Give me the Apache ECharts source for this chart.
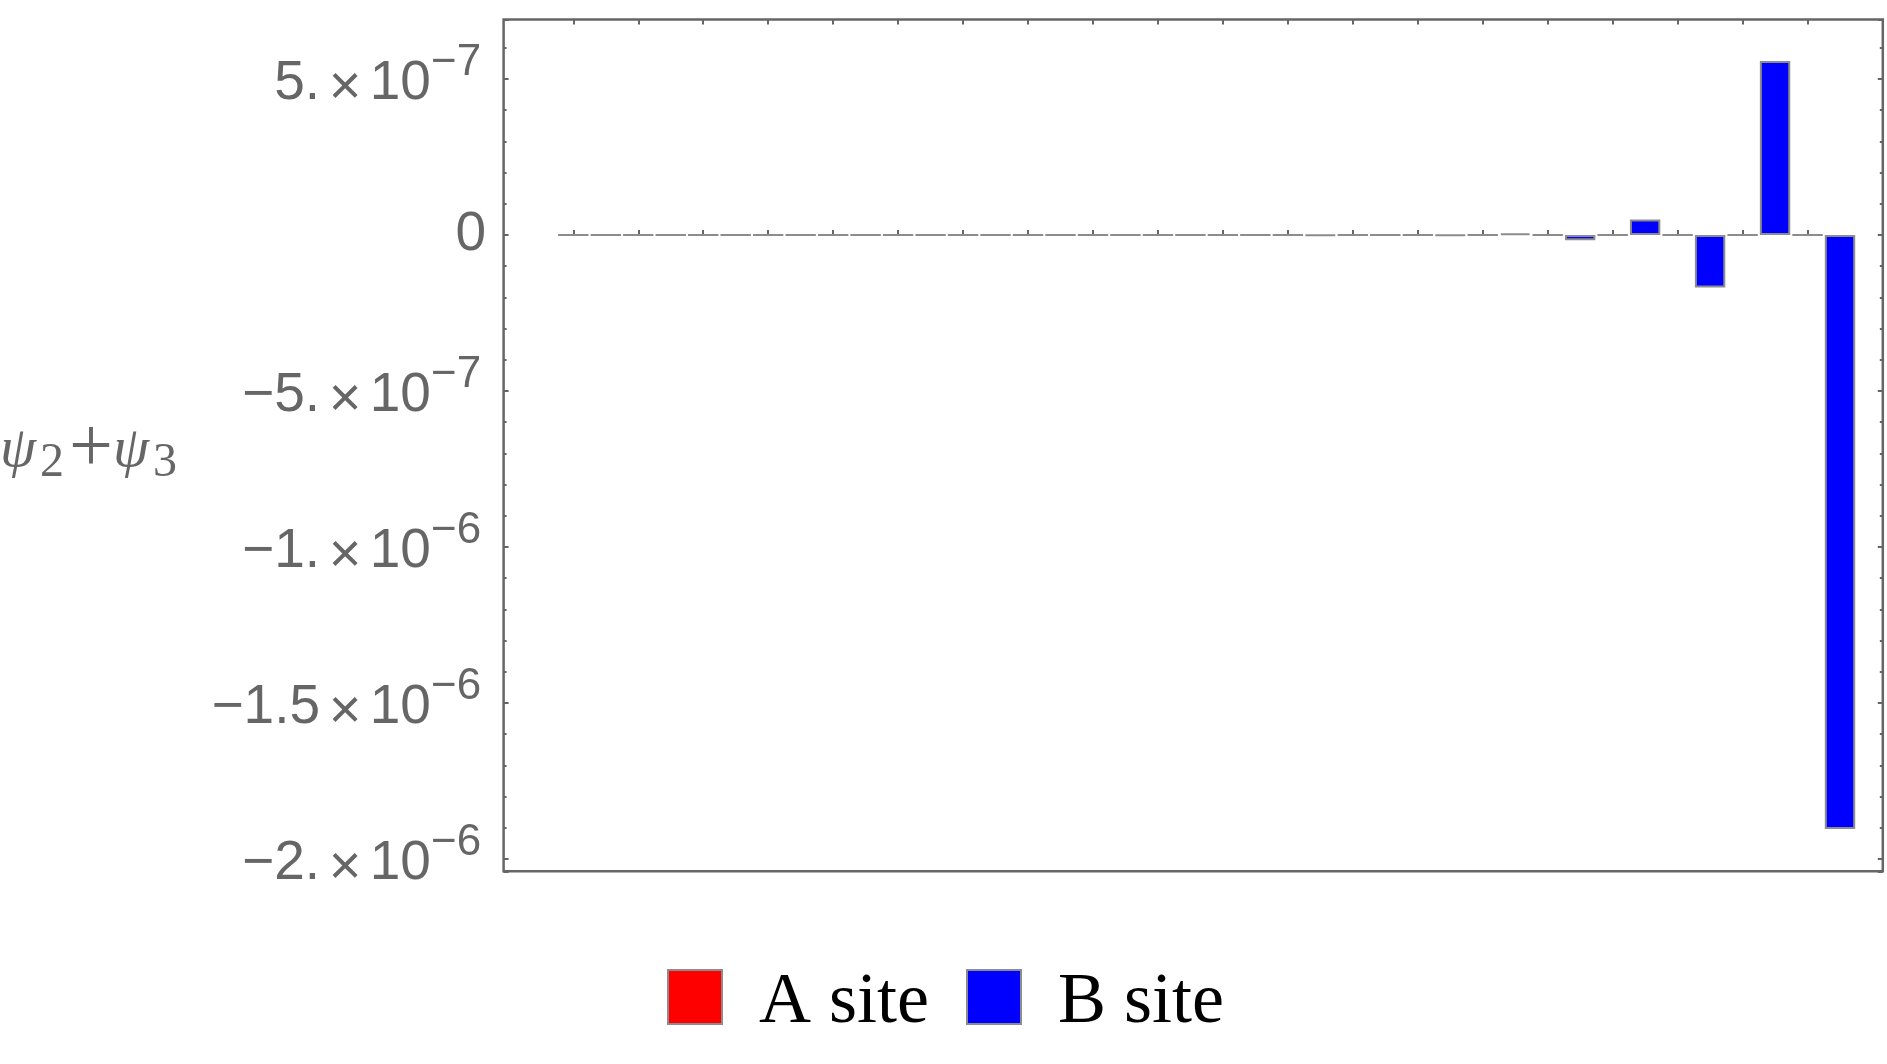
<!DOCTYPE html>
<html>
<head>
<meta charset="utf-8">
<title>psi2 + psi3</title>
<script src="https://cdn.jsdelivr.net/npm/echarts@6/dist/echarts.min.js"></script>
<style>
    html, body { margin: 0; padding: 0; background: #fff; }
    #main { width: 1887px; height: 1064px; }
</style>
</head>
<body>
<div id="main"></div>
<script>
// site index along the chain (no labels shown on the axis)
var siteIndex = ['1', '2', '3', '4', '5', '6', '7', '8', '9', '10',
    '11', '12', '13', '14', '15', '16', '17', '18', '19', '20'];
var seriesNames = ['A site', 'B site'];
// psi2 + psi3 on each sublattice
var aSite = [0, 0, 0, 0, 0, 0, 0, 0, 0, 0,
    0, 0, 0, 0, 0, 0, 0, 0, 0, 0];
var bSite = [0, 0, 0, 0, 0, 0, 0, 0, 0, 0,
    0, -1.5e-9, 0, -1.5e-9, 5.4e-9, -1.7e-8, 5.0e-8, -1.68e-7, 5.58e-7, -1.904e-6];
// plot range of the value axis
var yMin = -2.0394e-6;
var yMax = 6.907e-7;
var yStep = 5e-7;

var grey = '#666666';
var edge = '#8c8c8c';

/* y tick labels in Mathematica style: 5. x 10^-7 */
function sciLabel(v) {
    if (Math.abs(v) < 1e-15) return '{z|0}';
    var k = v / yStep;
    if (Math.abs(k - Math.round(k)) > 1e-6) return '';
    var e = Math.floor(Math.log10(Math.abs(v)) + 1e-9);
    var m = Math.round(v / Math.pow(10, e) * 10) / 10;
    var ms = (m % 1 === 0) ? String(m) + '.' : String(m);
    ms = ms.replace('-', '\u2212');
    return '{m|' + ms + '}{x|\u00d7}{m|10}{s|\u2212' + Math.abs(e) + '}';
}

var tickSlots = [];
siteIndex.forEach(function (c) {
    seriesNames.forEach(function (s) { tickSlots.push(c + ' ' + s); });
});

var myChart = echarts.init(document.getElementById('main'));

var hiddenAxis = {
    axisLine: {show: false}, axisTick: {show: false},
    axisLabel: {show: false}, splitLine: {show: false}
};
var tickStyle = {show: true, inside: true, length: 5, lineStyle: {color: grey, width: 2}};
var minorStyle = {show: true, splitNumber: 5, length: 3, lineStyle: {color: grey, width: 2}};

var option = {
    backgroundColor: '#ffffff',
    animation: false,
    grid: [
        // frame
        {left: 503.6, top: 19.5, width: 1379.2, height: 851.8, show: true,
            borderColor: grey, borderWidth: 2.5, backgroundColor: 'transparent'},
        // bars
        {left: 557.06, top: 19.5, width: 1299.2, height: 851.8},
        // bar ticks
        {left: 557.06, top: 19.5, width: 1299.2, height: 851.8}
    ]
};

option.xAxis = [
    Object.assign({type: 'value', gridIndex: 0, min: 0, max: 1}, hiddenAxis),
    Object.assign({type: 'category', gridIndex: 1, data: siteIndex}, hiddenAxis),
    {type: 'category', gridIndex: 2, position: 'bottom', data: tickSlots,
        axisLine: {show: false}, axisLabel: {show: false}, splitLine: {show: false},
        axisTick: Object.assign({alignWithLabel: true}, tickStyle)},
    {type: 'category', gridIndex: 2, position: 'top', data: tickSlots,
        axisLine: {show: false}, axisLabel: {show: false}, splitLine: {show: false},
        axisTick: Object.assign({alignWithLabel: true}, tickStyle)}
];

option.yAxis = [
    {type: 'value', gridIndex: 0, position: 'left', min: yMin, max: yMax, splitNumber: 5,
        axisLine: {show: false}, splitLine: {show: false},
        axisTick: tickStyle, minorTick: minorStyle,
        axisLabel: {
            show: true, margin: 17.5, formatter: sciLabel,
            showMinLabel: false, showMaxLabel: false,
            rich: {
                m: {fontFamily: 'Liberation Sans', fontSize: 55, color: grey, padding: [9.5, 0, 0, 0]},
                x: {fontFamily: 'Liberation Sans', fontSize: 56, color: grey, padding: [19, 8.2, 0, 8.8]},
                s: {fontFamily: 'Liberation Sans', fontSize: 44, color: grey, padding: [0, 5, 32.8, 0]},
                z: {fontFamily: 'Liberation Sans', fontSize: 55, color: grey}
            }
        }},
    {type: 'value', gridIndex: 0, position: 'right', min: yMin, max: yMax, splitNumber: 5,
        axisLine: {show: false}, splitLine: {show: false}, axisLabel: {show: false},
        axisTick: tickStyle, minorTick: minorStyle},
    Object.assign({type: 'value', gridIndex: 1, min: yMin, max: yMax}, hiddenAxis),
    Object.assign({type: 'value', gridIndex: 2, min: yMin, max: yMax}, hiddenAxis)
];

option.series = [
    {
        name: seriesNames[0], type: 'bar', xAxisIndex: 1, yAxisIndex: 2,
        barWidth: 30.4, barMaxWidth: 40, barGap: '6.8%', barCategoryGap: '3.2%', data: aSite,
        itemStyle: {color: '#ff0000', borderColor: edge, borderWidth: 2}
    },
    {
        name: seriesNames[1], type: 'bar', xAxisIndex: 1, yAxisIndex: 2,
        barWidth: 30.4, barMaxWidth: 40, barGap: '6.8%', barCategoryGap: '3.2%', data: bSite,
        itemStyle: {color: '#0000ff', borderColor: edge, borderWidth: 2}
    }
];

option.legend = {
    data: seriesNames, left: 662, top: 962, orient: 'horizontal',
    itemWidth: 54, itemHeight: 54, itemGap: 37, icon: 'rect',
    itemStyle: {borderColor: edge, borderWidth: 2},
    formatter: '{t|{name}}',
    textStyle: {
        rich: {
            t: {fontFamily: 'Liberation Serif', fontSize: 72, color: '#000', padding: [12, 0, 0, 32]}
        }
    }
};

/* axis name psi2 + psi3 */
option.graphic = [{
    type: 'text', x: 0, y: 451,
    style: {
        text: '{p|\u03c8}{b|2}{o|+}{p|\u03c8}{b|3}',
        verticalAlign: 'middle',
        rich: {
            p: {fontFamily: 'Liberation Serif', fontStyle: 'italic', fontSize: 58, fill: grey},
            b: {fontFamily: 'Liberation Serif', fontSize: 48, fill: grey, padding: [24, 0, 0, 4]},
            o: {fontFamily: 'Liberation Serif', fontSize: 78, fill: grey, padding: [0, 0, 0, 5]}
        }
    }
}];

myChart.setOption(option);
window.onresize = myChart.resize;
</script>
</body>
</html>
